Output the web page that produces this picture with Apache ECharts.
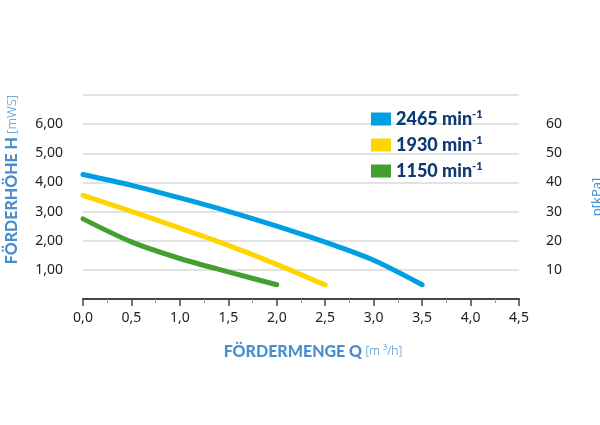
<!DOCTYPE html>
<html>
<head>
<meta charset="utf-8">
<script src="https://cdn.jsdelivr.net/npm/echarts@6/dist/echarts.min.js"></script>
<style>
  html, body { margin: 0; padding: 0; background: #fff; }
  #chart { width: 600px; height: 425px; }
</style>
</head>
<body>
<div id="chart"></div>
<script>
// Kennlinien (Q in m3/h, H in mWS)
var speeds = ['2465', '1930', '1150'];
var colors = ['#009fe3', '#ffd500', '#43a02e'];

var qBlue = [0, 0.5, 1.0, 1.5, 2.0, 2.5, 3.0, 3.5];
var hBlue = [4.27, 3.90, 3.47, 3.01, 2.50, 1.95, 1.33, 0.49];

var qYellow = [0, 0.5, 1.0, 1.5, 2.0, 2.5];
var hYellow = [3.56, 3.01, 2.43, 1.84, 1.19, 0.48];

var qGreen = [0, 0.5, 1.0, 1.5, 2.0];
var hGreen = [2.75, 1.96, 1.39, 0.93, 0.49];

var xTicks = ['0,0', '0,5', '1,0', '1,5', '2,0', '2,5', '3,0', '3,5', '4,0', '4,5'];
var yTicks = ['1,00', '2,00', '3,00', '4,00', '5,00', '6,00'];
var pTicks = ['10', '20', '30', '40', '50', '60'];

function pairs(q, h) {
    var out = [];
    for (var i = 0; i < q.length; i++) {
        out.push([q[i], h[i]]);
    }
    return out;
}

var curves = [pairs(qBlue, hBlue), pairs(qYellow, hYellow), pairs(qGreen, hGreen)];

var myChart = echarts.init(document.getElementById('chart'));

var seriesList = [];
for (var i = 0; i < speeds.length; i++) {
    seriesList.push({
        name: speeds[i],
        type: 'line',
        smooth: 0.3,
        showSymbol: false,
        data: curves[i],
        itemStyle: { color: colors[i] },
        lineStyle: { color: colors[i], width: 5, cap: 'round' }
    });
}

var option = {
    animation: false,
    grid: { left: 83, right: 81, top: 95, bottom: 126, outerBoundsMode: 'none', containLabel: false },
    legend: {
        orient: 'vertical',
        left: 366,
        top: 104,
        icon: 'rect',
        itemWidth: 20,
        itemHeight: 13,
        itemGap: 7,
        data: speeds,
        formatter: function (name) {
            return '{a|' + name + ' min}{b|-1}';
        },
        textStyle: {
            rich: {
                a: { fontFamily: 'Lato', fontWeight: 900, fontSize: 18, color: '#0d3a73', lineHeight: 20 },
                b: { fontFamily: 'Lato', fontWeight: 900, fontSize: 11, color: '#0d3a73', lineHeight: 20, verticalAlign: 'top', padding: [0, 0, 6, 0] }
            }
        }
    },
    xAxis: {
        type: 'value',
        min: 0,
        max: 4.5,
        interval: 0.5,
        axisLine: { show: true, onZero: false, lineStyle: { color: '#444', width: 2 } },
        axisTick: { show: true, length: 7, lineStyle: { color: '#444', width: 1.5 } },
        minorTick: { show: true, splitNumber: 2, length: 4, lineStyle: { color: '#999' } },
        splitLine: { show: false },
        axisLabel: {
            margin: 12,
            fontFamily: 'Noto Sans',
            fontSize: 14,
            color: '#222',
            formatter: function (v) {
                return xTicks[Math.round(v / 0.5)];
            }
        },
        name: '{b|FÖRDERMENGE Q} {l|[m ³/h]}',
        nameLocation: 'middle',
        nameGap: 45,
        nameTextStyle: {
            padding: [0, 0, 0, 24],
            rich: {
                b: { fontFamily: 'Lato', fontWeight: 900, fontSize: 16, color: '#4a8fcc' },
                l: { fontFamily: 'Noto Sans', fontWeight: 300, fontSize: 12, color: '#4a8fcc' }
            }
        }
    },
    yAxis: [
        {
            type: 'value',
            min: 0,
            max: 7,
            interval: 1,
            axisLine: { show: false },
            axisTick: { show: false },
            splitLine: { show: true, lineStyle: { color: '#d9d9d9', width: 1.5 } },
            axisLabel: {
                margin: 20,
                fontFamily: 'Noto Sans',
                fontSize: 14,
                color: '#222',
                formatter: function (v) {
                    return yTicks[v - 1] || '';
                }
            }
        },
        {
            type: 'value',
            min: 0,
            max: 70,
            interval: 10,
            position: 'right',
            axisLine: { show: false },
            axisTick: { show: false },
            splitLine: { show: false },
            axisLabel: {
                margin: 27,
                fontFamily: 'Noto Sans',
                fontSize: 14,
                color: '#222',
                formatter: function (v) {
                    return pTicks[v / 10 - 1] || '';
                }
            },
            name: 'p[kPa]',
            nameLocation: 'middle',
            nameRotate: 90,
            nameGap: 72,
            nameTextStyle: { fontFamily: 'Noto Sans', fontSize: 13, color: '#4a8fcc' }
        }
    ],
    graphic: [
        {
            type: 'text',
            left: 4,
            top: 95,
            rotation: Math.PI / 2,
            style: {
                text: '{b|FÖRDERHÖHE H} {l|[mWS]}',
                rich: {
                    b: { fontFamily: 'Lato', fontWeight: 900, fontSize: 16, fill: '#4a8fcc' },
                    l: { fontFamily: 'Noto Sans', fontWeight: 300, fontSize: 13, fill: '#4a8fcc' }
                }
            }
        }
    ],
    series: seriesList
};

myChart.setOption(option);
</script>
</body>
</html>
